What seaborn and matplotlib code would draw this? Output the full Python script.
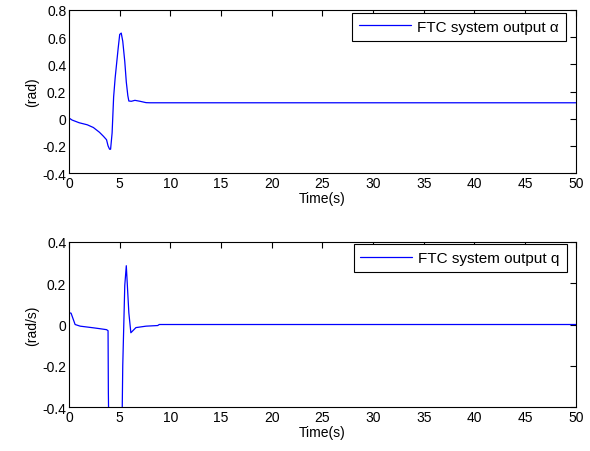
import numpy as np
import pandas as pd
import matplotlib
matplotlib.use("Agg")
import matplotlib.pyplot as plt
import seaborn as sns

# Data
t_alpha = [0, 0.3, 1.0, 1.8, 2.4, 3.0, 3.4, 3.7, 3.85, 4.0, 4.1, 4.25, 4.4, 4.55, 4.7, 4.85,
           5.0, 5.15, 5.3, 5.5, 5.65, 5.8, 5.9, 6.15, 6.5, 7.0, 7.6, 8.0, 20, 35, 50]
alpha = [0.005, -0.01, -0.03, -0.045, -0.065, -0.1, -0.13, -0.155, -0.2, -0.225, -0.225, -0.105,
         0.16, 0.3, 0.41, 0.52, 0.62, 0.63, 0.57, 0.42, 0.27, 0.17, 0.13, 0.128, 0.135, 0.128,
         0.118, 0.117, 0.117, 0.117, 0.117]

t_q = [0, 0.2, 0.6, 1.1, 2.4, 3.0, 3.7, 3.85, 3.88, 3.95, 5.2, 5.3, 5.5, 5.65, 5.9, 6.1, 6.3,
       6.6, 7.6, 8.75, 8.9, 20, 35, 50]
q = [0.057, 0.055, 0.0, -0.008, -0.016, -0.02, -0.025, -0.03, -0.33, -0.6, -0.6, -0.2, 0.19,
     0.285, 0.057, -0.04, -0.03, -0.015, -0.008, -0.005, 0.0, 0.0, 0.0, 0.0]

x_ticks = [0, 5, 10, 15, 20, 25, 30, 35, 40, 45, 50]
y1_ticks = [-0.4, -0.2, 0, 0.2, 0.4, 0.6, 0.8]
y2_ticks = [-0.4, -0.2, 0, 0.2, 0.4]

sns.set_style("white")
plt.rcParams['font.family'] = ['Liberation Sans', 'DejaVu Sans']
plt.rcParams['text.color'] = 'black'
plt.rcParams['axes.labelcolor'] = 'black'

fig = plt.figure(figsize=(5.9, 4.52), dpi=100)
ax1 = fig.add_axes([0.117, 0.615, 0.859, 0.3607])
ax2 = fig.add_axes([0.117, 0.0973, 0.859, 0.3651])

df1 = pd.DataFrame({"t": t_alpha, "v": alpha})
df2 = pd.DataFrame({"t": t_q, "v": q})

sns.lineplot(data=df1, x="t", y="v", ax=ax1, color="#0000ff", lw=0.9,
             label="FTC system output \u03b1", estimator=None, sort=False)
sns.lineplot(data=df2, x="t", y="v", ax=ax2, color="#0000ff", lw=0.9,
             label="FTC system output q", estimator=None, sort=False)

for ax, yt, yl, anchor in [(ax1, y1_ticks, "(rad)", (0.980, 0.982)),
                           (ax2, y2_ticks, "(rad/s)", (0.982, 0.988))]:
    ax.set_xlim(0, 50)
    ax.set_ylim(yt[0], yt[-1])
    ax.set_xticks(x_ticks)
    ax.set_xticklabels([str(v) for v in x_ticks])
    ax.set_yticks(yt)
    ax.set_yticklabels([("%g" % v) for v in yt])
    ax.tick_params(direction="in", length=4, width=0.8, top=True, right=True,
                   labelsize=10, pad=2, colors="black")
    ax.set_xlabel("Time(s)", fontsize=10, labelpad=1, color="black")
    ax.set_ylabel(yl, fontsize=10, labelpad=2, color="black")
    for s in ax.spines.values():
        s.set_color("black")
        s.set_linewidth(0.8)
        s.set_visible(True)
    leg = ax.legend(loc="upper right", bbox_to_anchor=anchor, fontsize=11, frameon=True,
                    fancybox=False, framealpha=1, edgecolor="black", handlelength=3.4,
                    handletextpad=0.4, borderaxespad=0.0, borderpad=0.45,
                    labelcolor="black")
    leg.get_frame().set_linewidth(0.8)

fig.savefig("out.png", dpi=100)
